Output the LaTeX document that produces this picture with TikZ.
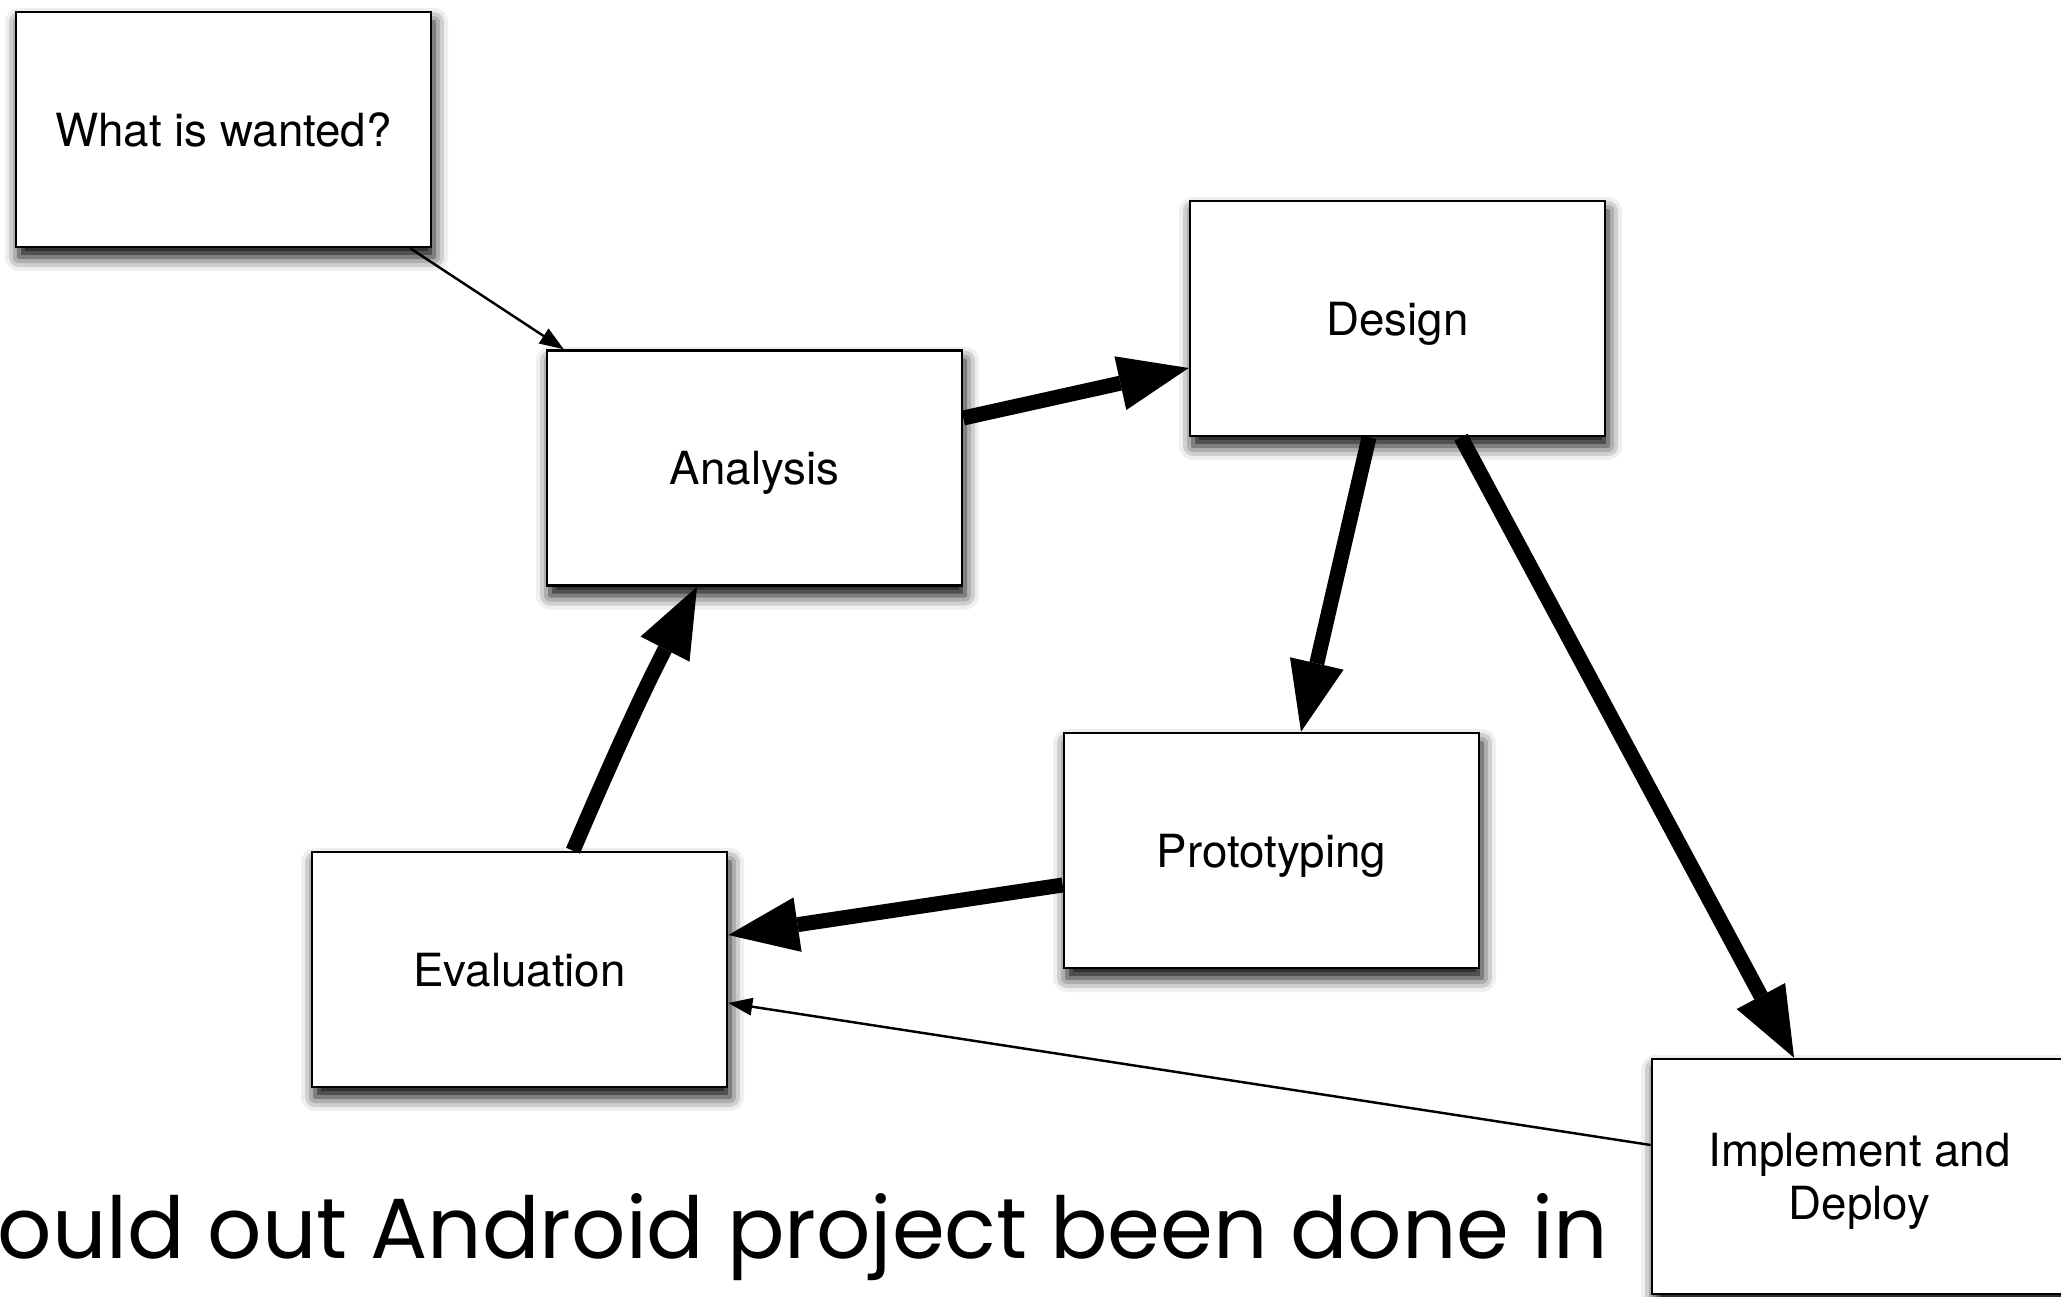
\documentclass[tikz,border=0pt]{standalone}
\usepackage{fontspec}
\usepackage{graphicx}
\setmainfont{TeX Gyre Heros}
\newfontfamily\slidefont{Poppins}
\usetikzlibrary{arrows.meta,shadows.blur}

\begin{document}
\begin{tikzpicture}[
    font=\fontsize{13pt}{15.2pt}\selectfont,
    stagebox/.style={
        draw=black,
        fill=white,
        line width=0.75pt,
        minimum width=4.15cm,
        minimum height=2.35cm,
        align=center,
        text depth=0pt,
        blur shadow={shadow xshift=0.03cm, shadow yshift=-0.1cm,
            shadow blur radius=0.14cm, shadow opacity=100}
    },
    bigarrow/.style={-{Triangle[length=0.7cm, width=0.55cm, line width=0pt]},
        line width=0.15cm, draw=black},
    smallarrow/.style={-{Triangle[length=0.24cm, width=0.18cm, line width=0pt]},
        line width=0.7pt, draw=black}
]
    \useasboundingbox (0,0) rectangle (20.61,-12.96);

    \node[stagebox] (wanted)   at (2.235,-1.295)  {What is wanted?};
    \node[stagebox] (analysis) at (7.545,-4.68)   {Analysis};
    \node[stagebox] (design)   at (13.975,-3.185) {Design};
    \node[stagebox] (proto)    at (12.715,-8.505) {Prototyping};
    \node[stagebox] (eval)     at (5.195,-9.695)  {Evaluation};
    \node[stagebox] (deploy)   at (18.595,-11.765) {Implement and\\Deploy};

    \node[anchor=base west, inner sep=0pt] (question) at (-0.03,-12.58)
        {\resizebox{16.1cm}{0.65cm}{\slidefont ould out Android project been done in}};

    \draw[smallarrow] ([xshift=-0.22cm]wanted.south east) -- ([xshift=0.18cm]analysis.north west);
    \draw[bigarrow] ([yshift=0.50cm]analysis.east) -- ([yshift=-0.495cm]design.west);
    \draw[bigarrow] ([xshift=-0.285cm]design.south) -- ([xshift=0.295cm]proto.north);
    \draw[bigarrow] ([xshift=0.635cm]design.south) -- ([xshift=-0.655cm]deploy.north);
    \draw[bigarrow] ([yshift=-0.345cm]proto.west) -- ([yshift=0.345cm]eval.east);
    \draw[bigarrow] ([xshift=0.535cm]eval.north) to[bend left=2] ([xshift=-0.575cm]analysis.south);
    \draw[smallarrow] ([yshift=0.315cm]deploy.west) -- ([yshift=-0.335cm]eval.east);

\end{tikzpicture}
\end{document}
